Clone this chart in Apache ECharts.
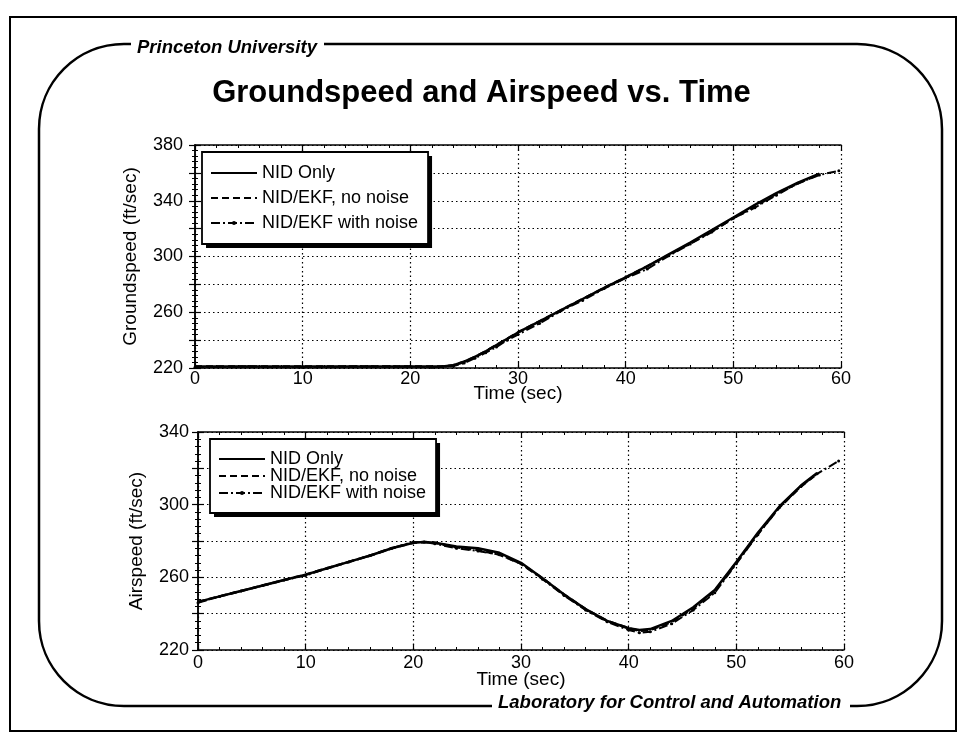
<!DOCTYPE html>
<html>
<head>
<meta charset="utf-8">
<title>Groundspeed and Airspeed vs. Time</title>
<script src="https://cdn.jsdelivr.net/npm/echarts@6/dist/echarts.min.js"></script>
<style>
  html, body { margin: 0; padding: 0; background: #fff; }
  #chart { width: 963px; height: 737px; }
</style>
</head>
<body>
<div id="chart"></div>
<script>
// groundspeed (ft/sec) vs time (sec)
const gsTime = [0, 5, 10, 15, 20, 22, 23, 24, 25, 26, 27, 28, 29, 30, 32, 34, 36, 38, 40, 42, 44, 46, 48, 50, 52, 54, 56, 58]
const gsNid = [221, 221, 221, 221, 221, 221, 221, 222, 224.5, 228, 232, 236.5, 241, 245.5, 253.5, 261.5, 269.5, 277.5, 285, 293, 301.5, 310, 319, 328, 337, 345.5, 353, 359.5]
const gsEkf = [221, 221, 221, 221, 221, 221, 221, 222, 224.5, 228, 232, 236.5, 241, 245.5, 253.5, 261.5, 269.5, 277.5, 285, 293, 301, 309.5, 318, 327.5, 336, 345, 352.5, 359]
const gsNoiseTime = [0, 5, 10, 15, 20, 22, 23, 24, 25, 26, 27, 28, 29, 30, 32, 34, 36, 38, 40, 42, 44, 46, 48, 50, 52, 54, 56, 58, 59.8]
const gsNoise = [220.5, 221, 220.5, 221, 221, 220.5, 221, 221.5, 223.5, 227, 231, 235, 240, 244, 252, 261, 268.5, 277, 284.5, 291, 300.5, 309, 317.5, 327.5, 335, 344, 352.5, 358.5, 361.5]

// airspeed (ft/sec) vs time (sec)
const asTime = [0, 2, 4, 6, 8, 10, 12, 14, 16, 18, 20, 21, 22, 24, 26, 28, 30, 32, 34, 36, 38, 40, 41, 42, 44, 46, 48, 50, 52, 54, 56, 57.5]
const asNid = [246.5, 249.5, 252.5, 255.5, 258.5, 261.5, 265, 268.5, 272, 276, 279, 279.5, 279, 277, 276, 273.5, 268, 259.5, 250.5, 242.5, 236, 232, 231, 231.5, 236, 243.5, 253, 268.5, 284.5, 299, 310.5, 317.5]
const asEkf = [246.5, 249.5, 252.5, 255.5, 258.5, 261.5, 265, 268.5, 272, 276, 279, 279.5, 279, 276.5, 275, 272.5, 267.5, 259.5, 250.5, 242.5, 236, 232, 230.5, 231, 235.5, 243, 252.5, 268, 284, 298.5, 310, 317]
const asNoiseTime = [0, 2, 4, 6, 8, 10, 12, 14, 16, 18, 20, 21, 22, 24, 26, 28, 30, 32, 34, 36, 38, 40, 41, 42, 44, 46, 48, 50, 52, 54, 56, 57.5, 59.5]
const asNoise = [246, 249.5, 252.5, 255.5, 258.5, 261, 265, 268.5, 272, 276, 279.5, 279.5, 278.5, 276, 274.5, 272.5, 267.5, 259, 250, 242, 235.5, 231, 229.5, 230, 234.5, 242, 251.5, 267.5, 283.5, 298.5, 310, 317, 324]

const seriesNames = ['NID Only', 'NID/EKF, no noise', 'NID/EKF with noise']

const FONT = '"Liberation Sans", Arial, Helvetica, sans-serif'
const chart = echarts.init(document.getElementById('chart'))

const pairs = (t, v) => t.map((x, i) => [x, v[i]])

const labelStyle = { color: '#000', fontSize: 18, fontFamily: FONT }
const nameStyle = { color: '#000', fontSize: 19, fontFamily: FONT }
const gridLine = { show: true, lineStyle: { color: '#000', type: [1.5, 3], width: 1.2 } }
const axisLine = { show: true, lineStyle: { color: '#000', width: 1.5 } }
const tick = { show: true, inside: true, length: 6, lineStyle: { color: '#000', width: 1.2 } }
const minor = (n) => ({ show: true, splitNumber: n, length: 3, lineStyle: { color: '#000', width: 1 } })

// x axes: a labelled one at the bottom, a bare one on top to close the box
function xAxes(gridIndex, labelMargin, nameGap) {
  return [
    {
      gridIndex, type: 'value', min: 0, max: 60, interval: 10, position: 'bottom',
      axisLine, axisTick: tick, minorTick: minor(5), splitLine: gridLine,
      axisLabel: { ...labelStyle, margin: labelMargin },
      name: 'Time (sec)', nameLocation: 'middle', nameGap, nameMoveOverlap: false, nameTextStyle: nameStyle,
    },
    {
      gridIndex, type: 'value', min: 0, max: 60, interval: 10, position: 'top',
      axisLine, axisTick: tick, minorTick: minor(5),
      axisLabel: { show: false }, splitLine: { show: false },
    },
  ]
}

function yAxes(gridIndex, max, name, labelMargin, nameGap) {
  return [
    {
      gridIndex, type: 'value', min: 220, max, interval: 20, position: 'left',
      axisLine, axisTick: tick, minorTick: minor(5), splitLine: gridLine,
      axisLabel: {
        ...labelStyle, margin: labelMargin,
        formatter: (v) => ((v - 220) % 40 === 0 ? String(v) : ''),
      },
      name, nameLocation: 'middle', nameGap, nameMoveOverlap: false, nameTextStyle: nameStyle,
    },
    {
      gridIndex, type: 'value', min: 220, max, interval: 20, position: 'right',
      axisLine, axisTick: tick, minorTick: minor(5),
      axisLabel: { show: false }, splitLine: { show: false },
    },
  ]
}

function lineSeries(xAxisIndex, yAxisIndex, nid, ekf, noise) {
  return [
    {
      name: seriesNames[0], type: 'line', xAxisIndex, yAxisIndex, data: nid,
      symbol: 'none',
      lineStyle: { color: '#000', width: 2.5 }, itemStyle: { color: '#000' }, z: 3,
    },
    {
      name: seriesNames[1], type: 'line', xAxisIndex, yAxisIndex, data: ekf,
      symbol: 'none',
      lineStyle: { color: '#000', width: 2.5, type: [7, 4] }, itemStyle: { color: '#000' }, z: 3,
    },
    {
      name: seriesNames[2], type: 'line', xAxisIndex, yAxisIndex, data: noise,
      symbol: 'circle', symbolSize: 3, showSymbol: true,
      lineStyle: { color: '#000', width: 2, type: [9, 3, 2, 3] }, itemStyle: { color: '#000' }, z: 3,
    },
  ]
}

// legend box; a black copy offset behind it gives the drop shadow
const legendData = [
  { name: seriesNames[0], itemStyle: { opacity: 0 } },
  { name: seriesNames[1], itemStyle: { opacity: 0 } },
  { name: seriesNames[2] },
]
function legend(left, top, itemGap, padding, shadow) {
  return {
    data: legendData, orient: 'vertical', left, top, itemGap, padding,
    itemWidth: 46, itemHeight: 5, selectedMode: false,
    textStyle: { ...labelStyle, padding: [0, 0, 0, 0] },
    backgroundColor: shadow ? '#000' : '#fff',
    borderColor: '#000', borderWidth: shadow ? 0 : 1.8, borderRadius: 0,
    z: shadow ? 4 : 5,
  }
}

// decorative frame pieces
const frameStyle = { fill: 'none', stroke: '#000', lineWidth: 2.5 }
const seg = (x1, y1, x2, y2) => ({ type: 'line', silent: true, shape: { x1, y1, x2, y2 }, style: frameStyle })
const corner = (x1, y1, cpx1, cpy1, cpx2, cpy2, x2, y2) => ({
  type: 'bezierCurve', silent: true, shape: { x1, y1, cpx1, cpy1, cpx2, cpy2, x2, y2 }, style: frameStyle,
})

const option = {
  backgroundColor: '#fff',
  animation: false,
  title: {
    text: 'Groundspeed and Airspeed vs. Time',
    left: 'center', top: 73,
    textStyle: { color: '#000', fontSize: 31, fontWeight: 'bold', fontFamily: FONT },
  },
  legend: [
    legend(206, 156, 7, [12, 10, 12, 8], true),
    legend(202, 152, 7, [12, 10, 12, 8], false),
    legend(214, 443, -1, [11, 10, 11, 8], true),
    legend(210, 439, -1, [11, 10, 11, 8], false),
  ],
  grid: [
    { left: 195, top: 145, width: 646, height: 223 },
    { left: 198, top: 432, width: 646, height: 218 },
  ],
  xAxis: [...xAxes(0, 2, 16), ...xAxes(1, 4, 20)],
  yAxis: [
    ...yAxes(0, 380, 'Groundspeed (ft/sec)', 12, 55),
    ...yAxes(1, 340, 'Airspeed (ft/sec)', 9, 52),
  ],
  series: [
    ...lineSeries(0, 0, pairs(gsTime, gsNid), pairs(gsTime, gsEkf), pairs(gsNoiseTime, gsNoise)),
    ...lineSeries(2, 2, pairs(asTime, asNid), pairs(asTime, asEkf), pairs(asNoiseTime, asNoise)),
  ],
  graphic: [
    // outer page border
    {
      type: 'rect', silent: true, shape: { x: 10, y: 17, width: 946, height: 714 },
      style: { fill: 'none', stroke: '#000', lineWidth: 2 },
    },
    // rounded frame with gaps for the header and footer text
    seg(324, 44, 857, 44),
    corner(857, 44, 904, 44, 942, 82, 942, 129),
    seg(942, 129, 942, 621),
    corner(942, 621, 942, 668, 904, 706, 857, 706),
    seg(857, 706, 850, 706),
    seg(492, 706, 124, 706),
    corner(124, 706, 77, 706, 39, 668, 39, 621),
    seg(39, 621, 39, 129),
    corner(39, 129, 39, 82, 77, 44, 124, 44),
    seg(124, 44, 131, 44),
    {
      type: 'text', left: 137, top: 38, silent: true,
      style: { text: 'Princeton University', fill: '#000', font: 'italic bold 18.5px ' + FONT },
    },
    {
      type: 'text', left: 498, top: 693, silent: true,
      style: { text: 'Laboratory for Control and Automation', fill: '#000', font: 'italic bold 18.5px ' + FONT },
    },
  ],
}

chart.setOption(option)
window.addEventListener('resize', () => chart.resize())
</script>
</body>
</html>
